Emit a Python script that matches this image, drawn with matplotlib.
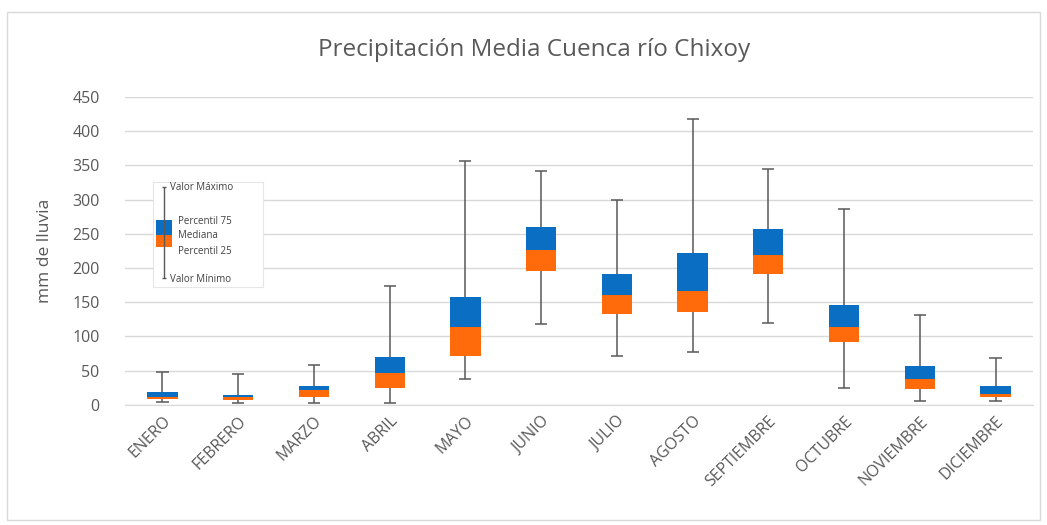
import matplotlib
matplotlib.use("Agg")
import matplotlib.pyplot as plt
from matplotlib.patches import Rectangle

plt.rcParams["font.family"] = ["Open Sans", "DejaVu Sans"]

# Monthly rainfall statistics (mm)
months = ["ENERO", "FEBRERO", "MARZO", "ABRIL", "MAYO", "JUNIO", "JULIO",
          "AGOSTO", "SEPTIEMBRE", "OCTUBRE", "NOVIEMBRE", "DICIEMBRE"]
v_min = [4, 3, 3, 3, 38, 118, 72, 77, 120, 25, 6, 6]
p25 = [9, 7, 12, 25, 72, 196, 133, 135, 191, 92, 23, 12]
median = [12, 11, 22, 47, 114, 227, 161, 167, 219, 114, 38, 16]
p75 = [18, 14, 27, 70, 158, 260, 191, 222, 257, 146, 57, 28]
v_max = [48, 45, 58, 174, 357, 342, 300, 418, 345, 286, 132, 69]

BLUE = "#0A6FC2"
ORANGE = "#FF6A0A"
GREY = "#595959"
GRID = "#D9D9D9"

fig = plt.figure(figsize=(10.47, 5.25), dpi=100)
fig.patches.append(Rectangle((0.007, 0.01), 0.986, 0.967, transform=fig.transFigure,
                             fill=False, edgecolor=GRID, linewidth=1))

ax = fig.add_axes([0.119, 0.229, 0.868, 0.586])
x = list(range(len(months)))
w = 0.4

# whiskers and caps
ax.vlines(x, v_min, v_max, color=GREY, linewidth=1.1, zorder=2)
ax.hlines(v_max, [i - 0.08 for i in x], [i + 0.08 for i in x], color=GREY, linewidth=1.1, zorder=2)
ax.hlines(v_min, [i - 0.08 for i in x], [i + 0.08 for i in x], color=GREY, linewidth=1.1, zorder=2)

# box halves
ax.bar(x, [m - q for m, q in zip(median, p25)], w, bottom=p25, color=ORANGE, zorder=3)
ax.bar(x, [q - m for q, m in zip(p75, median)], w, bottom=median, color=BLUE, zorder=3)

ax.set_ylim(0, 450)
ax.set_xlim(-0.5, len(months) - 0.5)
ax.set_yticks(range(0, 451, 50))
ax.yaxis.grid(True, color=GRID, linewidth=1)
ax.set_axisbelow(True)
for s in ["top", "right", "left"]:
    ax.spines[s].set_visible(False)
ax.spines["bottom"].set_color(GRID)
ax.tick_params(length=0, colors=GREY, labelsize=11.5)
ax.tick_params(axis="y", pad=18)
ax.tick_params(axis="x", pad=6)
ax.set_xticks(x)
ax.set_xticklabels(months, rotation=45, ha="right", rotation_mode="anchor", fontsize=11.5)
ax.set_ylabel("mm de lluvia", color=GREY, fontsize=12.5, labelpad=14)

fig.text(0.51, 0.905, "Precipitación Media Cuenca río Chixoy", ha="center", va="center",
         fontsize=17.5, color=GREY)

# key explaining the box parts
lg = fig.add_axes([153 / 1047, 1 - 287 / 525, 110 / 1047, 105 / 525])
lg.set_xlim(0, 110)
lg.set_ylim(105, 0)
lg.set_xticks([])
lg.set_yticks([])
for s in lg.spines.values():
    s.set_color("#E6E6E6")
lg.vlines(11, 5, 96, color=GREY, linewidth=1)
lg.hlines([5, 96], 9, 13, color=GREY, linewidth=1)
lg.bar(11, 15, 16, bottom=38, color=BLUE)
lg.bar(11, 12, 16, bottom=53, color=ORANGE)
lg_fs = 7
lg.text(17, 6, "Valor Máximo", fontsize=lg_fs, color="#404040", va="center")
lg.text(25, 40, "Percentil 75", fontsize=lg_fs, color="#404040", va="center")
lg.text(25, 54, "Mediana", fontsize=lg_fs, color="#404040", va="center")
lg.text(25, 69, "Percentil 25", fontsize=lg_fs, color="#404040", va="center")
lg.text(17, 97, "Valor Mínimo", fontsize=lg_fs, color="#404040", va="center")

fig.savefig("out.png", dpi=100)
